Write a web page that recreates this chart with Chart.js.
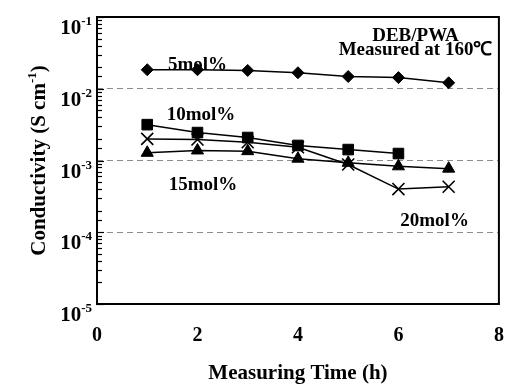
<!DOCTYPE html>
<html>
<head>
<meta charset="utf-8">
<script src="https://cdn.jsdelivr.net/npm/chart.js@4.4.1/dist/chart.umd.min.js"></script>
<style>
  html, body { margin: 0; padding: 0; background: #fff; }
  #chart { display: block; }
</style>
</head>
<body>
<canvas id="chart" width="509" height="392"></canvas>
<script>
// Measuring time (h)
var hours = [1, 2, 3, 4, 5, 6, 7];

// Conductivity (S cm-1) for each DEB/PWA ratio
var mol5  = [0.0184, 0.0184, 0.0180, 0.0167, 0.0148, 0.0143, 0.0121];
var mol10 = [0.00316, 0.00245, 0.00209, 0.00162, 0.00142, 0.00125];
var mol15 = [0.00128, 0.00138, 0.00135, 0.00106, 0.00093, 0.00083, 0.00077];
var mol20 = [0.00200, 0.00196, 0.00180, 0.00153, 0.00088, 0.00040, 0.00043];

var xTicks = [0, 2, 4, 6, 8];
var yExponents = [-1, -2, -3, -4, -5];

// text written inside the plot (x in h, y in S cm-1, text baseline)
var notes = [
    { text: '5mol%', x: 2.0, y: 0.0182 },
    { text: '10mol%', x: 2.07, y: 0.00367 },
    { text: '15mol%', x: 2.11, y: 0.000388 },
    { text: '20mol%', x: 6.72, y: 0.000122 },
    { text: 'DEB/PWA', x: 6.34, y: 0.0463 },
    { text: 'Measured at 160℃', x: 6.34, y: 0.0295 }
];

var SERIF = '"Liberation Serif", "Times New Roman", serif';

function pts(ys) {
    return ys.map(function(v, i) { return { x: hours[i], y: v }; });
}

function series(label, ys, style, radius) {
    return {
        label: label,
        data: pts(ys),
        borderColor: '#000',
        backgroundColor: '#000',
        borderWidth: 1.5,
        pointStyle: style,
        pointRadius: radius,
        pointHoverRadius: radius,
        pointBorderWidth: style === 'crossRot' ? 1.6 : 1,
        tension: 0
    };
}

function isDecade(v) {
    var e = Math.log10(v);
    return Math.abs(e - Math.round(e)) < 1e-9;
}

// frame, inward ticks, y labels with superscripts, y title, notes
var decor = {
    id: 'decor',
    afterDraw: function(chart) {
        var ctx = chart.ctx;
        var a = chart.chartArea;
        var x = chart.scales.x;
        var y = chart.scales.y;
        ctx.save();

        ctx.strokeStyle = '#000';
        ctx.lineWidth = 1.2;
        y.ticks.forEach(function(t) {
            var py = Math.round(y.getPixelForValue(t.value)) + 0.5;
            ctx.beginPath();
            ctx.moveTo(a.left, py);
            ctx.lineTo(a.left + (isDecade(t.value) ? 7 : 5), py);
            ctx.stroke();
        });

        ctx.lineWidth = 2;
        ctx.strokeRect(a.left, a.top, a.right - a.left, a.bottom - a.top);

        ctx.fillStyle = '#000';
        ctx.textBaseline = 'alphabetic';
        yExponents.forEach(function(e) {
            var py = y.getPixelForValue(Math.pow(10, e));
            var sup = '-' + Math.abs(e);
            ctx.font = 'bold 13px ' + SERIF;
            var sw = ctx.measureText(sup).width;
            var right = a.left - 5;
            ctx.textAlign = 'left';
            ctx.fillText(sup, right - sw, py + 8);
            ctx.font = 'bold 21px ' + SERIF;
            ctx.textAlign = 'right';
            ctx.fillText('10', right - sw, py + 17);
        });

        // y title, rotated
        var main = 'Conductivity (S cm';
        var sup = '-1';
        ctx.font = 'bold 21px ' + SERIF;
        var w1 = ctx.measureText(main).width;
        var w3 = ctx.measureText(')').width;
        ctx.font = 'bold 13px ' + SERIF;
        var w2 = ctx.measureText(sup).width;
        var total = w1 + w2 + w3;
        ctx.translate(45, (a.top + a.bottom) / 2);
        ctx.rotate(-Math.PI / 2);
        ctx.textAlign = 'left';
        ctx.font = 'bold 21px ' + SERIF;
        ctx.fillText(main, -total / 2, 0);
        ctx.fillText(')', -total / 2 + w1 + w2, 0);
        ctx.font = 'bold 13px ' + SERIF;
        ctx.fillText(sup, -total / 2 + w1, -9);
        ctx.setTransform(1, 0, 0, 1, 0, 0);

        ctx.font = 'bold 19px ' + SERIF;
        ctx.textAlign = 'center';
        notes.forEach(function(n) {
            ctx.fillText(n.text, x.getPixelForValue(n.x), y.getPixelForValue(n.y));
        });
        ctx.restore();
    }
};

var ctx = document.getElementById('chart').getContext('2d');
var chart = new Chart(ctx, {
    type: 'line',
    data: {
        datasets: [
            series('5mol%', mol5, 'rectRot', 6),
            series('10mol%', mol10, 'rect', 7.5),
            series('15mol%', mol15, 'triangle', 7),
            series('20mol%', mol20, 'crossRot', 8.5)
        ]
    },
    options: {
        responsive: false,
        animation: false,
        devicePixelRatio: 1,
        layout: { padding: { left: 0, right: 6, top: 17, bottom: 0 } },
        plugins: {
            legend: { display: false },
            tooltip: { enabled: false }
        },
        scales: {
            x: {
                type: 'linear',
                min: 0,
                max: 8,
                afterBuildTicks: function(scale) {
                    scale.ticks = xTicks.map(function(v) { return { value: v }; });
                },
                afterFit: function(scale) {
                    scale.height = 88;
                    scale.paddingLeft = 0;
                    scale.paddingRight = 0;
                },
                grid: { display: false, drawTicks: false },
                border: { display: false },
                ticks: {
                    color: '#000',
                    padding: 20,
                    font: { family: SERIF, size: 20, weight: 'bold' }
                },
                title: {
                    display: true,
                    text: 'Measuring Time (h)',
                    color: '#000',
                    padding: { top: 0, bottom: 6 },
                    font: { family: SERIF, size: 21, weight: 'bold' }
                }
            },
            y: {
                type: 'logarithmic',
                min: 1e-5,
                max: 1e-1,
                afterFit: function(scale) {
                    scale.width = 97;
                    scale.paddingTop = 0;
                    scale.paddingBottom = 0;
                },
                ticks: { display: false },
                grid: {
                    drawTicks: false,
                    lineWidth: 1,
                    color: function(c) {
                        var v = c.tick && c.tick.value;
                        if (!v || !isDecade(v) || v <= 1e-5 || v >= 1e-1) return 'rgba(0,0,0,0)';
                        return '#8c8c8c';
                    }
                },
                border: { display: false, dash: [6, 4] }
            }
        }
    },
    plugins: [decor]
});
</script>
</body>
</html>
